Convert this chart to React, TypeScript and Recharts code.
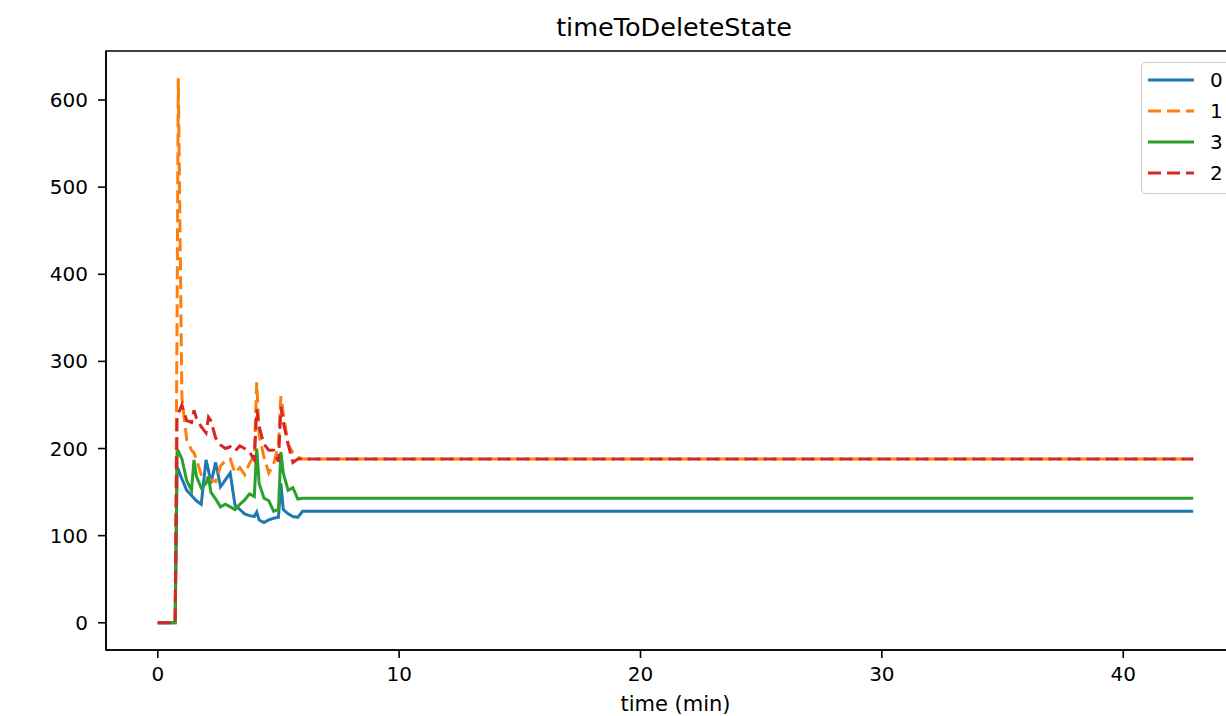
import React from 'react';
import { LineChart, Line, XAxis, YAxis, ReferenceArea } from 'recharts';

const times = [0, 0.72, 0.8, 0.85, 1.0, 1.2, 1.4, 1.5, 1.6, 1.8, 2.0, 2.1, 2.2, 2.4, 2.6, 2.8, 3.0, 3.2, 3.4, 3.6, 3.8, 4.0, 4.1, 4.2, 4.4, 4.6, 4.8, 5.0, 5.1, 5.2, 5.4, 5.6, 5.8, 6.0, 42.9];
const series0 = [0, 0, 178, 176, 165, 152, 146, 143, 140, 136, 187, 175, 160, 184, 156, 164, 172, 135, 130, 125, 123, 122, 127, 118, 115, 118, 120, 121, 160, 130, 125, 122, 121, 128, 128];
const series1 = [0, 0, 350, 625, 258, 210, 198, 195, 188, 170, 165, 166, 164, 162, 180, 186, 188, 172, 178, 170, 183, 192, 276, 215, 190, 172, 182, 205, 260, 240, 205, 195, 190, 188, 188];
const series3 = [0, 0, 196, 197, 188, 163, 152, 187, 168, 155, 160, 168, 150, 142, 133, 136, 133, 130, 136, 141, 148, 145, 200, 160, 143, 140, 128, 130, 196, 172, 152, 155, 142, 143, 143];
const series2 = [0, 0, 235, 240, 250, 232, 230, 244, 235, 225, 218, 236, 232, 212, 204, 200, 202, 197, 203, 200, 196, 187, 245, 225, 205, 198, 198, 185, 248, 230, 205, 184, 188, 188, 188];

const xTicks = [0, 10, 20, 30, 40];
const yTicks = [0, 100, 200, 300, 400, 500, 600];
const xDomain: [number, number] = [-2.145, 45.045];
const yDomain: [number, number] = [-31.25, 656.25];

const seriesDefs = [
  { key: 's0', name: '0', color: '#1f77b4', dash: undefined as string | undefined },
  { key: 's1', name: '1', color: '#ff7f0e', dash: '13 6' },
  { key: 's3', name: '3', color: '#2ca02c', dash: undefined },
  { key: 's2', name: '2', color: '#d62728', dash: '13 6' },
];

const data = times.map((t, i) => ({
  t,
  s0: series0[i],
  s1: series1[i],
  s3: series3[i],
  s2: series2[i],
}));

const FONT = 'DejaVu Sans';

const LegendBox = () => (
  <div
    style={{
      position: 'absolute',
      left: 1141,
      top: 62,
      border: '1.5px solid #cfcfcf',
      borderRadius: 5,
      background: 'rgba(255,255,255,0.85)',
      padding: '1px 14px 5px 6px',
      fontFamily: FONT,
      fontSize: 20,
      color: '#000',
      zIndex: 2,
    }}
  >
    {seriesDefs.map((s) => (
      <div key={s.key} style={{ display: 'flex', alignItems: 'center', height: 31 }}>
        <svg width={46} height={10} style={{ marginRight: 16 }}>
          <line x1={0} y1={5} x2={46} y2={5} stroke={s.color} strokeWidth={3} strokeDasharray={s.dash} />
        </svg>
        <span>{s.name}</span>
      </div>
    ))}
  </div>
);

export default function App() {
  return (
    <div style={{ position: 'absolute', left: 0, top: 0, width: 1226, height: 716, overflow: 'hidden', background: '#fff' }}>
      <div
        style={{
          position: 'absolute',
          left: 474,
          width: 400,
          top: 12,
          textAlign: 'center',
          fontFamily: FONT,
          fontSize: 25.5,
          lineHeight: '30px',
          color: '#000',
          zIndex: 2,
        }}
      >
        timeToDeleteState
      </div>
      <LineChart width={1300} height={716} data={data} margin={{ top: 51, right: 55, bottom: 0, left: 46 }}>
        <XAxis
          dataKey="t"
          type="number"
          domain={xDomain}
          ticks={xTicks}
          allowDataOverflow
          height={66}
          tickSize={8}
          tickMargin={9}
          tick={{ fontFamily: FONT, fontSize: 20, fill: '#000' }}
          tickLine={{ stroke: '#000', strokeWidth: 1.6 }}
          axisLine={{ stroke: '#000', strokeWidth: 1.6 }}
          label={{ value: 'time (min)', position: 'insideBottom', offset: 5, style: { fontFamily: FONT, fontSize: 21, fill: '#000' } }}
        />
        <XAxis
          xAxisId="top"
          dataKey="t"
          type="number"
          domain={xDomain}
          orientation="top"
          height={0}
          tick={false}
          tickLine={false}
          axisLine={{ stroke: '#000', strokeWidth: 1.6 }}
        />
        <YAxis
          type="number"
          domain={yDomain}
          ticks={yTicks}
          allowDataOverflow
          width={60}
          tickSize={8}
          tickMargin={10}
          tick={{ fontFamily: FONT, fontSize: 20, fill: '#000' }}
          tickLine={{ stroke: '#000', strokeWidth: 1.6 }}
          axisLine={{ stroke: '#000', strokeWidth: 1.6 }}
        />
        <ReferenceArea x1={xDomain[0]} x2={xDomain[1]} y1={yDomain[0]} y2={yDomain[1]} fill="none" stroke="#000" strokeWidth={1.6} ifOverflow="visible" />
        {seriesDefs.map((s) => (
          <Line
            key={s.key}
            dataKey={s.key}
            name={s.name}
            type="linear"
            stroke={s.color}
            strokeWidth={3}
            strokeDasharray={s.dash}
            dot={false}
            activeDot={false}
            isAnimationActive={false}
          />
        ))}
      </LineChart>
      <LegendBox />
    </div>
  );
}
